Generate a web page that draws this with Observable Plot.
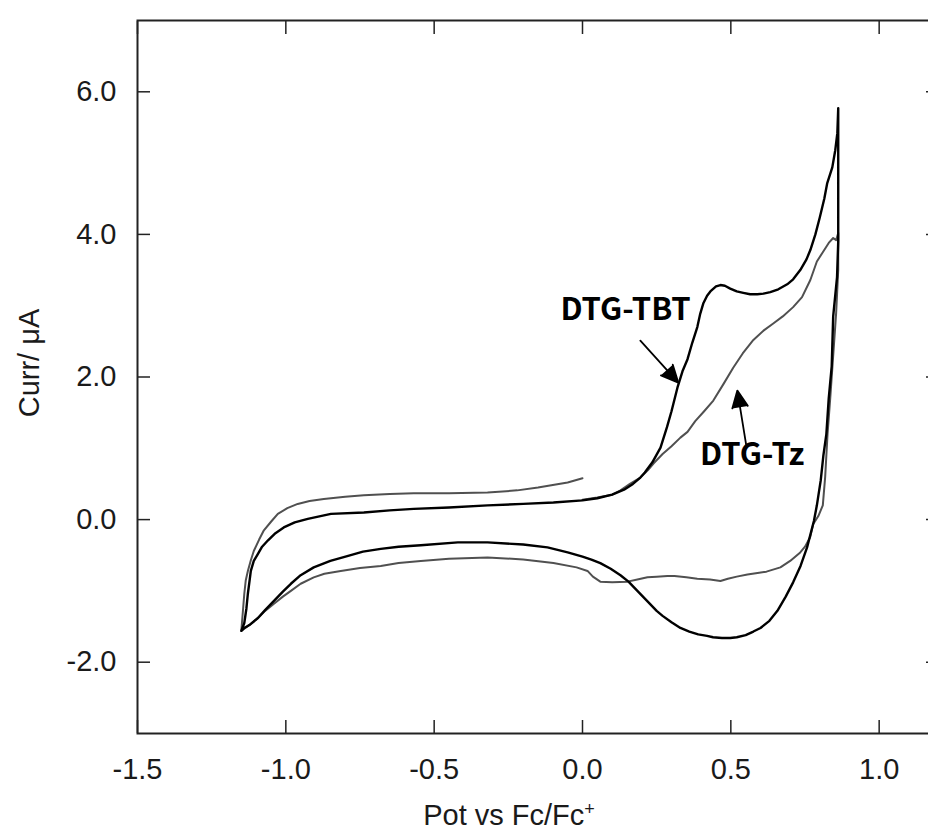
<!DOCTYPE html>
<html>
<head>
<meta charset="utf-8">
<script src="https://cdn.jsdelivr.net/npm/d3@7"></script>
<script src="https://cdn.jsdelivr.net/npm/@observablehq/plot@0.6"></script>
<style>
html, body { margin: 0; padding: 0; background: #fff; overflow: hidden; }
#wrap { width: 928px; height: 834px; overflow: hidden; }
#wrap svg { max-width: none !important; }
</style>
</head>
<body>
<div id="wrap"></div>
<script>
// DTG-TBT (black), scan order: 0 -> +0.86 -> -1.15 -> 0 V
const tbtX = [0.0,0.05,0.1,0.14,0.17,0.195,0.21,0.235,0.263,0.285,0.30,0.32,0.337,0.354,0.37,0.387,0.397,0.407,0.42,0.431,0.45,0.465,0.48,0.498,0.52,0.542,0.565,0.589,0.61,0.633,0.66,0.69,0.71,0.734,0.755,0.768,0.785,0.80,0.815,0.825,0.835,0.842,0.852,0.859,0.862,
  0.862,0.858,0.845,0.840,0.830,0.822,0.812,0.803,0.79,0.78,0.757,0.735,0.71,0.685,0.657,0.63,0.60,0.576,0.55,0.52,0.498,0.47,0.44,0.42,0.39,0.36,0.33,0.30,0.27,0.25,0.22,0.185,0.155,0.128,0.095,0.06,0.03,0.0,-0.05,-0.118,-0.2,-0.32,-0.42,-0.545,-0.62,-0.68,-0.74,-0.79,-0.85,-0.906,-0.95,-0.983,-1.01,-1.04,-1.07,-1.094,-1.12,-1.14,-1.15,
  -1.14,-1.133,-1.128,-1.122,-1.118,-1.108,-1.094,-1.08,-1.06,-1.035,-1.007,-0.97,-0.926,-0.848,-0.737,-0.65,-0.569,-0.45,-0.32,-0.2,-0.098,0.0];
const tbtY = [0.27,0.30,0.35,0.42,0.50,0.59,0.66,0.80,1.01,1.30,1.52,1.85,2.08,2.25,2.48,2.70,2.89,3.03,3.14,3.20,3.27,3.29,3.28,3.24,3.20,3.18,3.16,3.16,3.17,3.19,3.23,3.30,3.37,3.50,3.65,3.78,4.00,4.24,4.50,4.72,4.85,4.94,5.18,5.42,5.77,
  3.9,3.4,2.85,2.15,1.70,1.20,0.90,0.55,0.20,-0.02,-0.39,-0.65,-0.88,-1.08,-1.28,-1.42,-1.52,-1.57,-1.62,-1.65,-1.66,-1.66,-1.65,-1.63,-1.61,-1.57,-1.52,-1.44,-1.35,-1.28,-1.15,-1.00,-0.87,-0.78,-0.69,-0.61,-0.56,-0.52,-0.46,-0.39,-0.35,-0.32,-0.32,-0.36,-0.38,-0.41,-0.45,-0.51,-0.58,-0.67,-0.78,-0.90,-1.01,-1.14,-1.27,-1.38,-1.47,-1.52,-1.56,
  -1.45,-1.25,-1.04,-0.85,-0.72,-0.58,-0.48,-0.38,-0.29,-0.19,-0.11,-0.04,0.01,0.08,0.10,0.13,0.15,0.17,0.20,0.22,0.24,0.27];

// DTG-Tz (grey), same scan order
const tzX = [0.0,0.05,0.1,0.128,0.16,0.195,0.22,0.24,0.27,0.30,0.33,0.354,0.38,0.41,0.441,0.475,0.508,0.54,0.576,0.61,0.643,0.675,0.71,0.74,0.768,0.79,0.81,0.83,0.845,0.855,0.862,
  0.862,0.855,0.845,0.835,0.826,0.818,0.81,0.795,0.778,0.767,0.750,0.734,0.70,0.667,0.62,0.59,0.556,0.52,0.49,0.465,0.43,0.387,0.35,0.31,0.286,0.25,0.219,0.185,0.152,0.1,0.06,0.035,0.017,-0.02,-0.098,-0.2,-0.32,-0.45,-0.545,-0.62,-0.68,-0.75,-0.815,-0.87,-0.906,-0.95,-0.983,-1.01,-1.04,-1.07,-1.094,-1.12,-1.14,-1.15,
  -1.148,-1.145,-1.14,-1.135,-1.128,-1.118,-1.108,-1.09,-1.074,-1.05,-1.027,-0.995,-0.96,-0.92,-0.872,-0.8,-0.737,-0.65,-0.569,-0.45,-0.32,-0.22,-0.15,-0.05,0.0];
const tzY = [0.28,0.31,0.35,0.41,0.50,0.59,0.69,0.79,0.92,1.03,1.15,1.23,1.38,1.52,1.67,1.90,2.13,2.33,2.52,2.65,2.75,2.85,2.98,3.12,3.36,3.62,3.75,3.88,3.95,3.92,4.02,
  3.5,2.9,2.3,1.7,1.2,0.6,0.2,0.05,-0.06,-0.25,-0.38,-0.46,-0.58,-0.67,-0.73,-0.75,-0.77,-0.80,-0.83,-0.86,-0.84,-0.83,-0.81,-0.79,-0.79,-0.80,-0.81,-0.84,-0.87,-0.88,-0.87,-0.80,-0.72,-0.67,-0.61,-0.56,-0.53,-0.55,-0.58,-0.61,-0.65,-0.68,-0.72,-0.76,-0.81,-0.90,-1.00,-1.08,-1.18,-1.28,-1.38,-1.47,-1.53,-1.56,
  -1.45,-1.30,-1.04,-0.85,-0.72,-0.57,-0.44,-0.28,-0.15,-0.03,0.08,0.16,0.22,0.26,0.29,0.32,0.34,0.36,0.37,0.37,0.38,0.41,0.45,0.52,0.58];

const xTicks = [-1.5, -1.0, -0.5, 0.0, 0.5, 1.0];
const yTicks = [-2, 0, 2, 4, 6];
const labels = [
  {text: "DTG-TBT", x: 0.145, y: 2.94},
  {text: "DTG-Tz", x: 0.572, y: 0.90}
];
const arrows = [
  {x1: 0.195, y1: 2.51, x2: 0.323, y2: 1.92},
  {x1: 0.552, y1: 1.04, x2: 0.522, y2: 1.81}
];

const tbt = tbtX.map((x, i) => ({x, y: tbtY[i]}));
const tz = tzX.map((x, i) => ({x, y: tzY[i]}));

const fontAxis = "'Liberation Sans', Arial, sans-serif";
const fontAnno = "'Noto Sans CJK KR', 'Noto Sans', sans-serif";

const chart = Plot.plot({
  width: 940,
  height: 834,
  marginLeft: 137,
  marginRight: 2,
  marginTop: 20,
  marginBottom: 101,
  style: {fontFamily: fontAxis, fontSize: "29px", color: "#1a1a1a", background: "#fff", maxWidth: "none"},
  x: {domain: [-1.5, 1.2]},
  y: {domain: [-3, 7]},
  marks: [
    Plot.axisX({anchor: "bottom", ticks: xTicks, tickFormat: d => d.toFixed(1), tickSize: -13, tickPadding: 38, label: null, stroke: "#222", strokeWidth: 1.5}),
    Plot.axisX({anchor: "top", ticks: xTicks, tickSize: -13, text: null, label: null, stroke: "#222", strokeWidth: 1.5}),
    Plot.axisY({anchor: "left", ticks: yTicks, tickFormat: d => d.toFixed(1), tickSize: -13, tickPadding: 34, label: null, stroke: "#222", strokeWidth: 1.5}),
    Plot.axisY({anchor: "right", ticks: yTicks, tickSize: -13, text: null, label: null, stroke: "#222", strokeWidth: 1.5}),
    Plot.frame({stroke: "#222", strokeWidth: 2}),
    Plot.line(tz, {x: "x", y: "y", stroke: "#505050", strokeWidth: 2}),
    Plot.line(tbt, {x: "x", y: "y", stroke: "#000", strokeWidth: 2.4}),
    Plot.arrow(arrows, {x1: "x1", y1: "y1", x2: "x2", y2: "y2", stroke: "#000", fill: "#000", strokeWidth: 1.8, headLength: 22, headAngle: 50}),
    Plot.text(labels, {x: "x", y: "y", text: "text", fontFamily: fontAnno, fontWeight: "bold", fontSize: 31, fill: "#000"}),
    Plot.text(["Pot vs Fc/Fc"], {frameAnchor: "bottom", textAnchor: "middle", lineAnchor: "middle", text: d => d, dx: -29, dy: 82, fontSize: 29, fill: "#1a1a1a"}),
    Plot.text(["Curr/ μA"], {frameAnchor: "left", textAnchor: "middle", lineAnchor: "middle", text: d => d, rotate: -90, dx: -108, dy: -14, fontSize: 29, fill: "#1a1a1a"})
  ]
});
chart.style.maxWidth = "none";

d3.select(chart).selectAll("text").filter(function() { return this.textContent === "Pot vs Fc/Fc"; })
  .append("tspan").attr("baseline-shift", "super").attr("font-size", "18").text("+");

document.getElementById("wrap").appendChild(chart);
</script>
</body>
</html>
